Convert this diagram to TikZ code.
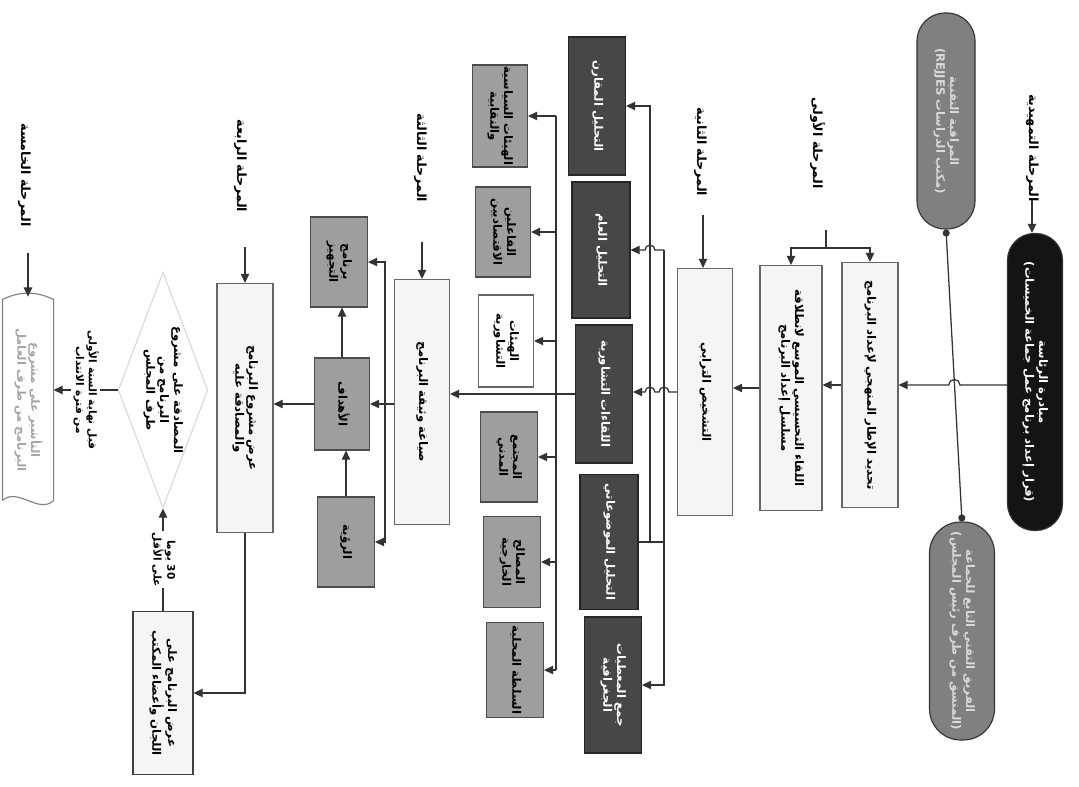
\documentclass[tikz,border=0pt]{standalone}
\usepackage{fontspec}
\usepackage{graphicx}
\usepackage{tikz}
\usetikzlibrary{arrows.meta,shapes.geometric}
\newfontfamily\arabicfont[Script=Arabic]{DejaVu Sans}
\TeXXeTstate=1
\newcommand{\artxt}[1]{{\arabicfont\beginR #1\endR}}
\newcommand{\rotx}[1]{\rotatebox{-90}{\begin{tabular}{@{}c@{}}#1\end{tabular}}}

\tikzset{
  wire/.style={draw=black!80, line width=0.9pt},
  arr/.style={wire, -{Triangle[length=6.5pt,width=6pt]}},
  sz/.style 2 args={minimum width=#1*0.025cm, minimum height=#2*0.025cm},
  box/.style={rectangle, draw=black!60, line width=0.8pt, inner sep=0pt, font=\fontsize{8.3}{9.8}\selectfont\bfseries},
  lightbox/.style={box, fill=black!4},
  greybox/.style={box, fill=black!38, draw=black!70},
  darkbox/.style={box, fill=black!72, draw=black!85, text=white},
  pill/.style={box, draw=black!80, text=white},
  head/.style={font=\fontsize{9}{10.5}\selectfont\bfseries},
}

\begin{document}
\begin{tikzpicture}[x=0.025cm,y=-0.025cm]
    \fill[white] (0,0) rectangle (1079,787);
    \useasboundingbox (0,0) rectangle (1079,787);

    % stage headings
    \node[head] (hPrep) at (1032,148) {\rotx{\artxt{المرحلة التمهيدية}}};
    \node[head] (hOne) at (817,143) {\rotx{\artxt{المرحلة الأولى}}};
    \node[head] (hTwo) at (700,152) {\rotx{\artxt{المرحلة الثانية}}};
    \node[head] (hThree) at (420,158) {\rotx{\artxt{المرحلة الثالثة}}};
    \node[head] (hFour) at (240,166) {\rotx{\artxt{المرحلة الرابعة}}};
    \node[head] (hFive) at (24,175) {\rotx{\artxt{المرحلة الخامسة}}};

    % preparatory stage
    \node[pill, fill=black!92, rounded corners=0.67cm, sz={55}{297}] (prep) at (1035,382)
        {\rotx{\artxt{مبادرة الرئاسة}\\\artxt{(قرار إعداد برنامج عمل جماعة الخميسات)}}};
    \node[pill, fill=black!50, text=white!85!black, rounded corners=0.7cm, sz={58}{216}] (ctrl) at (946,121)
        {\rotx{\artxt{المراقبة التقنية}\\\artxt{(مكتب الدراسات \beginL REJJES\endL)}}};
    \node[pill, fill=black!50, text=white!85!black, rounded corners=0.78cm, sz={65}{218}] (team) at (962,631)
        {\rotx{\artxt{الفريق التقني التابع للجماعة}\\\artxt{(المنسق من طرف رئيس المجلس)}}};

    % first stage
    \node[lightbox, sz={56}{245}] (boxA) at (870,385) {\rotx{\artxt{تحديد الإطار المنهجي لإعداد البرنامج}}};
    \node[lightbox, sz={62}{245}] (boxB) at (791,388) {\rotx{\artxt{اللقاء التحسيسي الموسع لانطلاقة}\\\artxt{مسلسل إعداد البرنامج}}};

    % second stage
    \node[lightbox, sz={55}{247}] (diag) at (705,392) {\rotx{\artxt{التشخيص الترابي}}};
    \node[darkbox, sz={57}{138}] (d1) at (597,106) {\rotx{\artxt{التحليل المقارن}}};
    \node[darkbox, sz={58}{136}] (d2) at (601,250) {\rotx{\artxt{التحليل العام}}};
    \node[darkbox, sz={57}{138}] (d3) at (604,394) {\rotx{\artxt{اللقاءات التشاورية}}};
    \node[darkbox, sz={58}{135}] (d4) at (609,542) {\rotx{\artxt{التحليل الموضوعاتي}}};
    \node[darkbox, sz={57}{136}] (d5) at (613,685) {\rotx{\artxt{جمع المعطيات}\\\artxt{الجغرافية}}};

    \node[greybox, sz={55}{102}] (s1) at (500,116) {\rotx{\artxt{الهيئات السياسية}\\\artxt{والنقابية}}};
    \node[greybox, sz={55}{90}] (s2) at (503,232) {\rotx{\artxt{الفاعلين}\\\artxt{الاقتصاديين}}};
    \node[box, fill=white, sz={55}{92}] (s3) at (506,341) {\rotx{\artxt{الهيئات}\\\artxt{التشاورية}}};
    \node[greybox, sz={57}{90}] (s4) at (509,457) {\rotx{\artxt{المجتمع}\\\artxt{المدني}}};
    \node[greybox, sz={57}{91}] (s5) at (512,562) {\rotx{\artxt{المصالح}\\\artxt{الخارجية}}};
    \node[greybox, sz={57}{95}] (s6) at (515,670) {\rotx{\artxt{السلطة المحلية}}};

    % third stage
    \node[lightbox, sz={55}{245}] (draft) at (422,402) {\rotx{\artxt{صياغة وثيقة البرنامج}}};
    \node[greybox, sz={57}{90}] (prog) at (339,262) {\rotx{\artxt{برنامج}\\\artxt{التجهيز}}};
    \node[greybox, sz={55}{92}] (goals) at (342,404) {\rotx{\artxt{الأهداف}}};
    \node[greybox, sz={57}{90}] (vision) at (346,542) {\rotx{\artxt{الرؤية}}};

    % fourth and fifth stage
    \node[lightbox, sz={56}{249}] (show) at (245,408) {\rotx{\artxt{عرض مشروع البرنامج}\\\artxt{والمصادقة عليه}}};
    \node[lightbox, draw=black!75, sz={60}{163}] (comm) at (163,693) {\rotx{\artxt{عرض البرنامج على}\\\artxt{اللجان وأعضاء المكتب}}};
    \node[box, diamond, draw=black!15, fill=white, aspect=0.38, sz={86}{226}] (dec) at (163,390)
        {\rotx{\artxt{المصادقة على مشروع}\\\artxt{البرنامج من}\\\artxt{طرف المجلس}}};
    \node[box, draw=none, sz={50}{200}, text=black!35] (doc) at (28,400) {\rotx{\artxt{التأشير على مشروع}\\\artxt{البرنامج من طرف العامل}}};
    \draw[black!50, line width=0.8pt] (doc.south west) -- (doc.north west) to[bend left=25] (doc.north east)
        -- (doc.south east) .. controls +(-15,14) and +(15,-14) .. (doc.south west);

    % heading arrows
    \coordinate (aPrep) at (1032,200);
    \coordinate (aTwo) at (703,215);
    \coordinate (aThree) at (422,242);
    \coordinate (aFour) at (245,247);
    \coordinate (aFive) at (28,253);
    \draw[arr] (aPrep) -- (aPrep |- prep.north);
    \draw[arr] (aTwo) -- (aTwo |- diag.north);
    \draw[arr] (aThree) -- (draft.north);
    \draw[arr] (aFour) -- (show.north);
    \draw[arr, shorten >=2pt] (aFive) -- (doc.north);

    % preparatory links
    \draw[wire, {Circle[length=5pt]}-{Circle[length=5pt]}] (ctrl.south) -- (team.north);
    \draw[arr] (prep.west |- boxA.east) -- (960,385) arc[start angle=0,end angle=180,radius=4pt] -- (boxA.east);

    % first stage links
    \coordinate (splitTop) at (826,230);
    \coordinate (split) at (826,248);
    \draw[wire] (splitTop) -- (split);
    \draw[arr] (split) -| (boxA.north);
    \draw[arr] (split) -| (boxB.north);
    \draw[arr] (boxA.west) -- (boxB.east |- boxA.west);
    \draw[arr] (boxB.west) -- (diag.east |- boxB.west);

    % second stage links
    \coordinate (v1a) at (650,106);
    \coordinate (v1b) at (650,542);
    \coordinate (v2a) at (664,250);
    \coordinate (v2b) at (664,685);
    \draw[arr] (diag.west) -- (668.9,392) arc[start angle=0,end angle=180,radius=3.5pt]
        -- (654.9,392) arc[start angle=0,end angle=180,radius=3.5pt] -- (d3.east |- diag.west);
    \draw[wire] (d4.east) -- (v2a |- d4.east);
    \draw[arr] (v1b) -- (v1a) -- (d1.east);
    \draw[arr] (v2a) -- ++(-9.1,0) arc[start angle=0,end angle=180,radius=3.5pt] -- (d2.east);
    \draw[arr] (v2a) -- (v2b) -- (d5.east);

    \coordinate (busTop) at (556,116);
    \coordinate (busBot) at (556,670);
    \draw[wire] (busTop) -- (busBot);
    \foreach \s in {s1,s2,s3,s4,s5,s6}
        \draw[arr] (busTop |- \s.east) -- (\s.east);
    \draw[arr] (d3.west) -- (draft.east |- d3.west);

    % third stage links
    \coordinate (brTop) at (385,262);
    \coordinate (brBot) at (385,542);
    \draw[arr] (draft.west |- goals.east) -- (goals.east);
    \draw[arr] (brTop |- goals.east) -- (brTop) -- (prog.east);
    \draw[arr] (brBot |- goals.east) -- (brBot) -- (vision.east);
    \draw[arr] (vision.north) -- (vision.north |- goals.south);
    \draw[arr] (goals.north) -- (goals.north |- prog.south);
    \draw[arr] (goals.west) -- (show.east |- goals.west);

    % fourth stage links
    \draw[arr] (show.south) |- (comm.east);
    \draw[arr] (comm.north) -- (dec.south)
        node[midway, fill=white, inner sep=1pt, font=\fontsize{7.5}{9}\selectfont\bfseries] {\rotx{\artxt{\beginL 30\endL{} يوما}\\\artxt{على الأقل}}};
    \draw[arr] (dec.west) -- (doc.east |- dec.west)
        node[midway, fill=white, inner sep=1pt, font=\fontsize{7.5}{9}\selectfont\bfseries] {\rotx{\artxt{قبل نهاية السنة الأولى}\\\artxt{من فترة الانتداب}}};
\end{tikzpicture}
\end{document}
